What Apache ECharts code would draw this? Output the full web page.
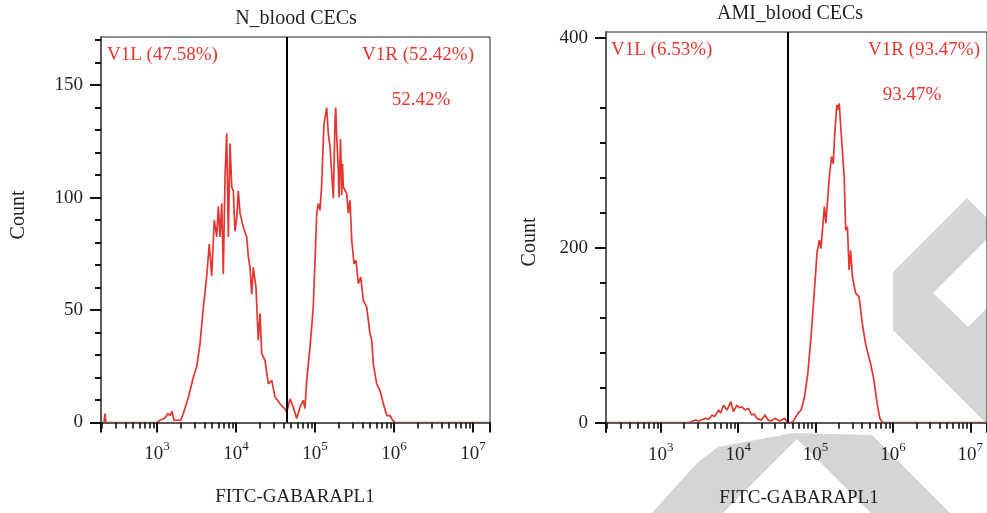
<!DOCTYPE html>
<html>
<head>
<meta charset="utf-8">
<script src="https://cdn.jsdelivr.net/npm/echarts@6/dist/echarts.min.js"></script>
<style>
  html, body { margin: 0; padding: 0; background: #fff; }
  #chart { width: 987px; height: 513px; }
</style>
</head>
<body>
<div id="chart"></div>
<script>
// FITC-GABARAPL1 histograms; x values are log10 of fluorescence intensity.
const nBloodLog = [2.291, 2.329, 2.342, 2.354, 2.785, 3.000, 3.038, 3.101, 3.139, 3.165, 3.190, 3.215, 3.266, 3.300, 3.333, 3.396, 3.459, 3.503, 3.544, 3.586, 3.629, 3.662, 3.692, 3.725, 3.756, 3.776, 3.797, 3.819, 3.839, 3.861, 3.882, 3.903, 3.924, 3.946, 3.966, 3.987, 4.009, 4.029, 4.051, 4.092, 4.135, 4.156, 4.177, 4.199, 4.219, 4.253, 4.282, 4.304, 4.325, 4.367, 4.409, 4.452, 4.494, 4.557, 4.620, 4.642, 4.684, 4.725, 4.768, 4.810, 4.852, 4.873, 4.895, 4.937, 4.978, 5.000, 5.022, 5.042, 5.063, 5.085, 5.105, 5.114, 5.148, 5.168, 5.190, 5.211, 5.232, 5.253, 5.262, 5.275, 5.295, 5.304, 5.323, 5.338, 5.348, 5.358, 5.401, 5.422, 5.443, 5.465, 5.494, 5.519, 5.548, 5.579, 5.611, 5.654, 5.696, 5.718, 5.738, 5.781, 5.823, 5.865, 5.908, 5.949, 5.984, 6.013, 7.215];
const nBloodCount = [0, 0, 4, 0, 0, 0, 1, 2, 4, 3, 5, 1, 1, 1, 4, 11, 20, 25, 35, 51, 65, 79.5, 65, 90, 82.5, 96, 82.5, 97.5, 66, 109, 128.5, 82.5, 124, 104.7, 103, 85, 91, 103, 93, 87, 82.5, 73.6, 69, 57, 69, 60, 36.5, 48.5, 30.7, 27.6, 17.2, 18.7, 11.3, 8.3, 6, 4.6, 10.5, 6.8, 1.8, 6.8, 9.8, 6.2, 18.7, 33.5, 51.3, 72, 92.9, 97.3, 94.3, 106, 125.5, 133, 140, 128.5, 122.5, 123, 99.7, 134, 140, 127, 112, 100, 126, 101, 115, 104.7, 101.8, 93, 98.8, 81, 70.6, 72, 61.7, 64.7, 54.3, 51.3, 39.5, 36.5, 26, 17.2, 14.2, 8.3, 3.1, 3.1, 0.9, 0, 0];

const amiBloodLog = [2.291, 3.362, 3.448, 3.490, 3.576, 3.618, 3.661, 3.695, 3.746, 3.772, 3.810, 3.853, 3.875, 3.904, 3.939, 3.981, 4.015, 4.045, 4.088, 4.131, 4.173, 4.207, 4.237, 4.301, 4.344, 4.387, 4.425, 4.472, 4.536, 4.600, 4.630, 4.665, 4.707, 4.732, 4.771, 4.813, 4.857, 4.899, 4.941, 4.985, 5.018, 5.049, 5.069, 5.113, 5.133, 5.177, 5.206, 5.228, 5.248, 5.274, 5.289, 5.305, 5.325, 5.369, 5.389, 5.411, 5.433, 5.453, 5.475, 5.517, 5.561, 5.603, 5.645, 5.676, 5.709, 5.753, 5.795, 5.830, 5.859, 5.898, 7.215];
const amiBloodCount = [0, 0, 3, 2, 5, 4, 8.8, 7, 14.5, 11, 20, 14.5, 18, 24, 12.6, 20, 17, 18.3, 14.5, 16.5, 8.8, 10, 5, 3, 8.8, 3, 2, 5, 2, 5, 1, 0, 1, 3, 10.7, 14.5, 30, 56, 98, 152, 194, 209, 199, 247, 228, 281, 304, 296, 331, 363, 358, 365, 338, 281, 220, 224, 174.5, 197, 167, 148, 144, 113.6, 90.7, 79, 68, 49, 22, 5, 1, 0, 0];

// V1 gate boundary (log10 intensity) and gate percentages [left, right]
const gateLog = 4.645;
const nBloodGatePct = [47.58, 52.42];
const amiBloodGatePct = [6.53, 93.47];

// Axis tick values
const logMin = 2.291, logMax = 7.215;
const decadeExponents = [3, 4, 5, 6, 7];
const nBloodYTicks = [0, 50, 100, 150];
const nBloodYTickLabels = ['0', '50', '100', '150'];
const amiBloodYTicks = [0, 200, 440];
const amiBloodYTickLabels = ['0', '200', '400'];

const FONT = '"Liberation Serif", "Times New Roman", serif';
const RED = '#e5352e';
const INK = '#231f20';
const MARK_GRAY = '#d5d5d5';

// minor log ticks at 2..9 x 10^n
const minorLog = [];
for (let n = 2; n <= 7; n++) {
  for (let k = 2; k <= 9; k++) {
    const v = n + Math.log10(k);
    if (v > logMin && v < logMax) minorLog.push(v);
  }
}
const range = (a, b, s) => { const r = []; for (let v = a; v <= b + 1e-9; v += s) r.push(v); return r; };

const panels = [
  { left: 101, top: 37, width: 389, height: 385.5, yMax: 171.4,
    yMajor: nBloodYTicks, yLabels: nBloodYTickLabels, yMinor: range(0, 170, 10),
    xs: nBloodLog, ys: nBloodCount },
  { left: 606, top: 32, width: 387, height: 390.7, yMax: 446.5,
    yMajor: amiBloodYTicks, yLabels: amiBloodYTickLabels, yMinor: range(0, 360, 40).concat([440]),
    xs: amiBloodLog, ys: amiBloodCount }
];

const grid = [], xAxis = [], yAxis = [], series = [];
panels.forEach((p, i) => {
  grid.push({ left: p.left, top: p.top, width: p.width, height: p.height,
    show: true, borderColor: '#222', borderWidth: 1, backgroundColor: 'transparent' });
  // major x axis: decades with superscript labels
  xAxis.push({ type: 'value', gridIndex: i, min: logMin, max: logMax, position: 'bottom', z: 4,
    axisLine: { show: true, onZero: false, lineStyle: { color: '#5a5a5a', width: 2 } },
    axisTick: { show: true, length: 10, customValues: [logMin].concat(decadeExponents, [logMax]),
      lineStyle: { color: '#111', width: 2 } },
    axisLabel: { show: true, customValues: decadeExponents, margin: 18,
      formatter: v => '{b|10}{s|' + v + '}',
      rich: {
        b: { fontFamily: FONT, fontSize: 19, color: INK, lineHeight: 28 },
        s: { fontFamily: FONT, fontSize: 13, color: INK, verticalAlign: 'top', lineHeight: 13 }
      } },
    splitLine: { show: false } });
  // minor x ticks
  xAxis.push({ type: 'value', gridIndex: i, min: logMin, max: logMax, position: 'bottom', z: 4,
    axisLine: { show: false, onZero: false },
    axisTick: { show: true, length: 6, customValues: minorLog, lineStyle: { color: '#111', width: 1.6 } },
    axisLabel: { show: false }, splitLine: { show: false } });
  // major y axis
  yAxis.push({ type: 'value', gridIndex: i, min: 0, max: p.yMax, position: 'left', z: 4,
    axisLine: { show: true, onZero: false, lineStyle: { color: '#5a5a5a', width: 2 } },
    axisTick: { show: true, length: 11, customValues: p.yMajor, lineStyle: { color: '#111', width: 2 } },
    axisLabel: { show: true, customValues: p.yMajor, margin: 18, fontFamily: FONT, fontSize: 19, color: INK,
      formatter: v => p.yLabels[p.yMajor.indexOf(v)] },
    splitLine: { show: false } });
  // minor y ticks
  yAxis.push({ type: 'value', gridIndex: i, min: 0, max: p.yMax, position: 'left', z: 4,
    axisLine: { show: false, onZero: false },
    axisTick: { show: true, length: 6, customValues: p.yMinor, lineStyle: { color: '#111', width: 2 } },
    axisLabel: { show: false }, splitLine: { show: false } });

  series.push({ type: 'line', xAxisIndex: 2 * i, yAxisIndex: 2 * i, z: 2,
    data: p.xs.map((x, j) => [x, p.ys[j]]),
    showSymbol: false, symbol: 'none',
    lineStyle: { color: RED, width: 1.7 }, itemStyle: { color: RED },
    markLine: { silent: true, symbol: 'none', animation: false,
      label: { show: false },
      lineStyle: { color: '#000', width: 2, type: 'solid' },
      data: [{ xAxis: gateLog }] } });
});

function txt(x, y, text, size, color, align, rot) {
  return { type: 'text', x: x, y: y, rotation: rot || 0, z: 10,
    style: { text: text, fill: color, font: size + 'px ' + FONT,
      textAlign: align || 'center', textVerticalAlign: 'middle' } };
}
function shade(points) {
  return { type: 'polygon', z: -10, silent: true,
    shape: { points: points }, style: { fill: MARK_GRAY } };
}
const fmt = v => v.toFixed(2) + '%';

const graphic = [
  // publisher mark behind the right panel
  shade([[652, 513], [697, 463], [718, 447], [793, 433], [872, 435], [950, 513],
         [871, 513], [797, 439], [723, 513]]),
  shade([[967, 198], [987, 218], [987, 239], [933, 293], [968, 327], [987, 308],
         [987, 424], [893, 330], [893, 272]]),
  txt(296, 19, 'N_blood CECs', 20, INK),
  txt(790, 14, 'AMI_blood CECs', 20, INK),
  txt(295, 497, 'FITC-GABARAPL1', 19, INK),
  txt(799, 498, 'FITC-GABARAPL1', 19, INK),
  txt(19, 215, 'Count', 20, INK, 'center', Math.PI / 2),
  txt(530, 242, 'Count', 20, INK, 'center', Math.PI / 2),
  txt(107, 55, 'V1L (' + fmt(nBloodGatePct[0]) + ')', 19, RED, 'left'),
  txt(474, 55, 'V1R (' + fmt(nBloodGatePct[1]) + ')', 19, RED, 'right'),
  txt(421, 100, fmt(nBloodGatePct[1]), 19, RED),
  txt(611, 50, 'V1L (' + fmt(amiBloodGatePct[0]) + ')', 19, RED, 'left'),
  txt(980, 50, 'V1R (' + fmt(amiBloodGatePct[1]) + ')', 19, RED, 'right'),
  txt(912, 95, fmt(amiBloodGatePct[1]), 19, RED)
];

const chart = echarts.init(document.getElementById('chart'), null, { renderer: 'canvas' });
chart.setOption({
  animation: false,
  backgroundColor: '#fff',
  grid: grid, xAxis: xAxis, yAxis: yAxis, series: series,
  graphic: graphic
});
</script>
</body>
</html>
